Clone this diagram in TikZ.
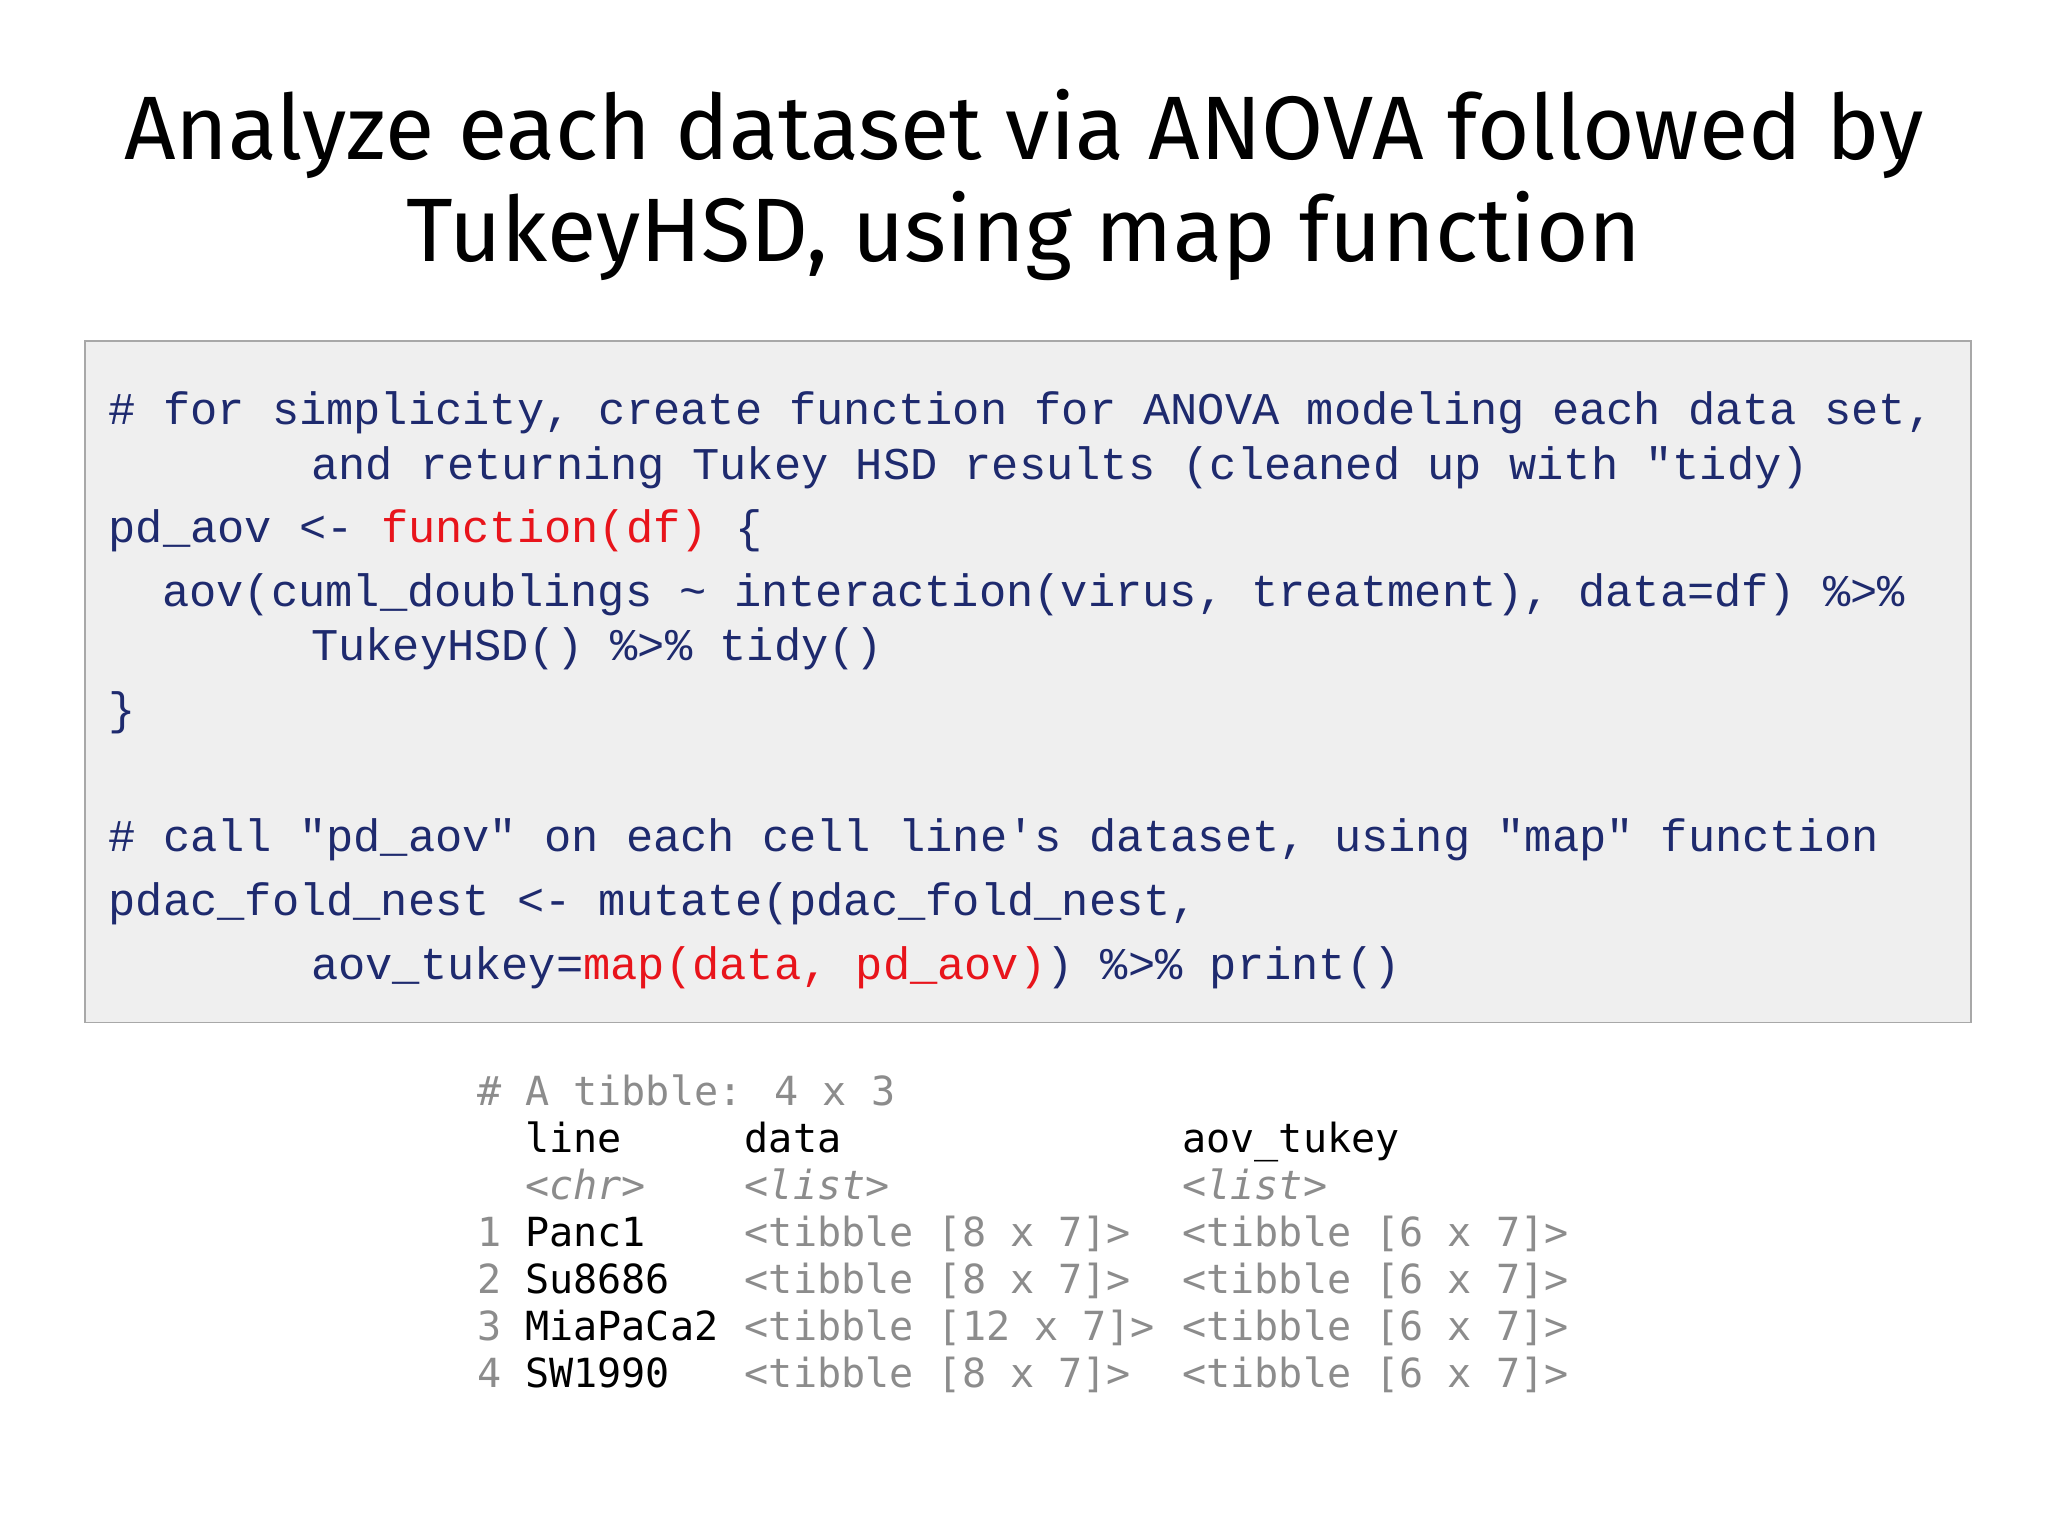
\documentclass[tikz,border=0pt]{standalone}
\usepackage{fontspec}
\setmainfont{Liberation Sans}
\setmonofont{Liberation Mono}
\newfontfamily\outfont{DejaVu Sans Mono}
\newfontfamily\titlefont{Fira Sans}
\definecolor{codeblue}{HTML}{1E2A6E}
\definecolor{codered}{HTML}{E8141B}
\definecolor{boxfill}{HTML}{EFEFEF}
\definecolor{boxline}{HTML}{A8A8A8}
\definecolor{outgrey}{HTML}{8C8C8C}
\tikzset{
  ttl/.style={font=\titlefont\fontsize{69}{75}\selectfont, anchor=base},
  code/.style={font=\ttfamily\fontsize{34.75}{40}\selectfont, text=codeblue, anchor=base west, inner sep=0},
  outp/.style={font=\outfont\fontsize{30.7}{36}\selectfont, anchor=base west, inner sep=0},
}
\newcommand{\rd}[1]{\textcolor{codered}{#1}}
\newcommand{\gy}[1]{\textcolor{outgrey}{#1}}
\begin{document}
\begin{tikzpicture}[x=1pt,y=-1pt]
\useasboundingbox (0,0) rectangle (1568,1176);
\fill[white] (0,0) rectangle (1568,1176);
\node[ttl] (t1) at (784,122) {Analyze each dataset via ANOVA followed by};
\node[ttl] (t2) at (784,200) {TukeyHSD, using map function};
\draw[boxline, fill=boxfill, line width=1pt] (65,261) rectangle (1509,783);
\node[code] (c1) at (83,325) {\# for simplicity, create function for ANOVA modeling each data set,};
\node[code] (c2) at (238,367) {and returning Tukey HSD results (cleaned up with "tidy)};
\node[code] (c3) at (83,415) {pd\_aov <- \rd{function(df)} \{};
\node[code] (c4) at (124,464) {aov(cuml\_doublings \textasciitilde{} interaction(virus, treatment), data=df) \%>\%};
\node[code] (c5) at (238,506) {TukeyHSD() \%>\% tidy()};
\node[code] (c6) at (83,555) {\}};
\node[code] (c7) at (83,652) {\# call "pd\_aov" on each cell line's dataset, using "map" function};
\node[code] (c8) at (83,701) {pdac\_fold\_nest <- mutate(pdac\_fold\_nest,};
\node[code] (c9) at (238,750) {aov\_tukey=\rd{map(data, pd\_aov)}) \%>\% print()};
% tibble output
\node[outp] (o0) at (365,846) {\gy{\# A tibble: 4 x 3}};
\node[outp] (h1) at (402,882) {line};
\node[outp] (h2) at (570,882) {data};
\node[outp] (h3) at (905,882) {aov\_tukey};
\node[outp] (ty1) at (402,918) {\gy{\itshape <chr>}};
\node[outp] (ty2) at (570,918) {\gy{\itshape <list>}};
\node[outp] (ty3) at (905,918) {\gy{\itshape <list>}};
\node[outp] (r1) at (365,954) {\gy{1} Panc1};
\node[outp] (r1b) at (570,954) {\gy{<tibble [8 x 7]>}};
\node[outp] (r1c) at (905,954) {\gy{<tibble [6 x 7]>}};
\node[outp] (r2) at (365,990) {\gy{2} Su8686};
\node[outp] (r2b) at (570,990) {\gy{<tibble [8 x 7]>}};
\node[outp] (r2c) at (905,990) {\gy{<tibble [6 x 7]>}};
\node[outp] (r3) at (365,1026) {\gy{3} MiaPaCa2};
\node[outp] (r3b) at (570,1026) {\gy{<tibble [12 x 7]>}};
\node[outp] (r3c) at (905,1026) {\gy{<tibble [6 x 7]>}};
\node[outp] (r4) at (365,1062) {\gy{4} SW1990};
\node[outp] (r4b) at (570,1062) {\gy{<tibble [8 x 7]>}};
\node[outp] (r4c) at (905,1062) {\gy{<tibble [6 x 7]>}};
\end{tikzpicture}
\end{document}
